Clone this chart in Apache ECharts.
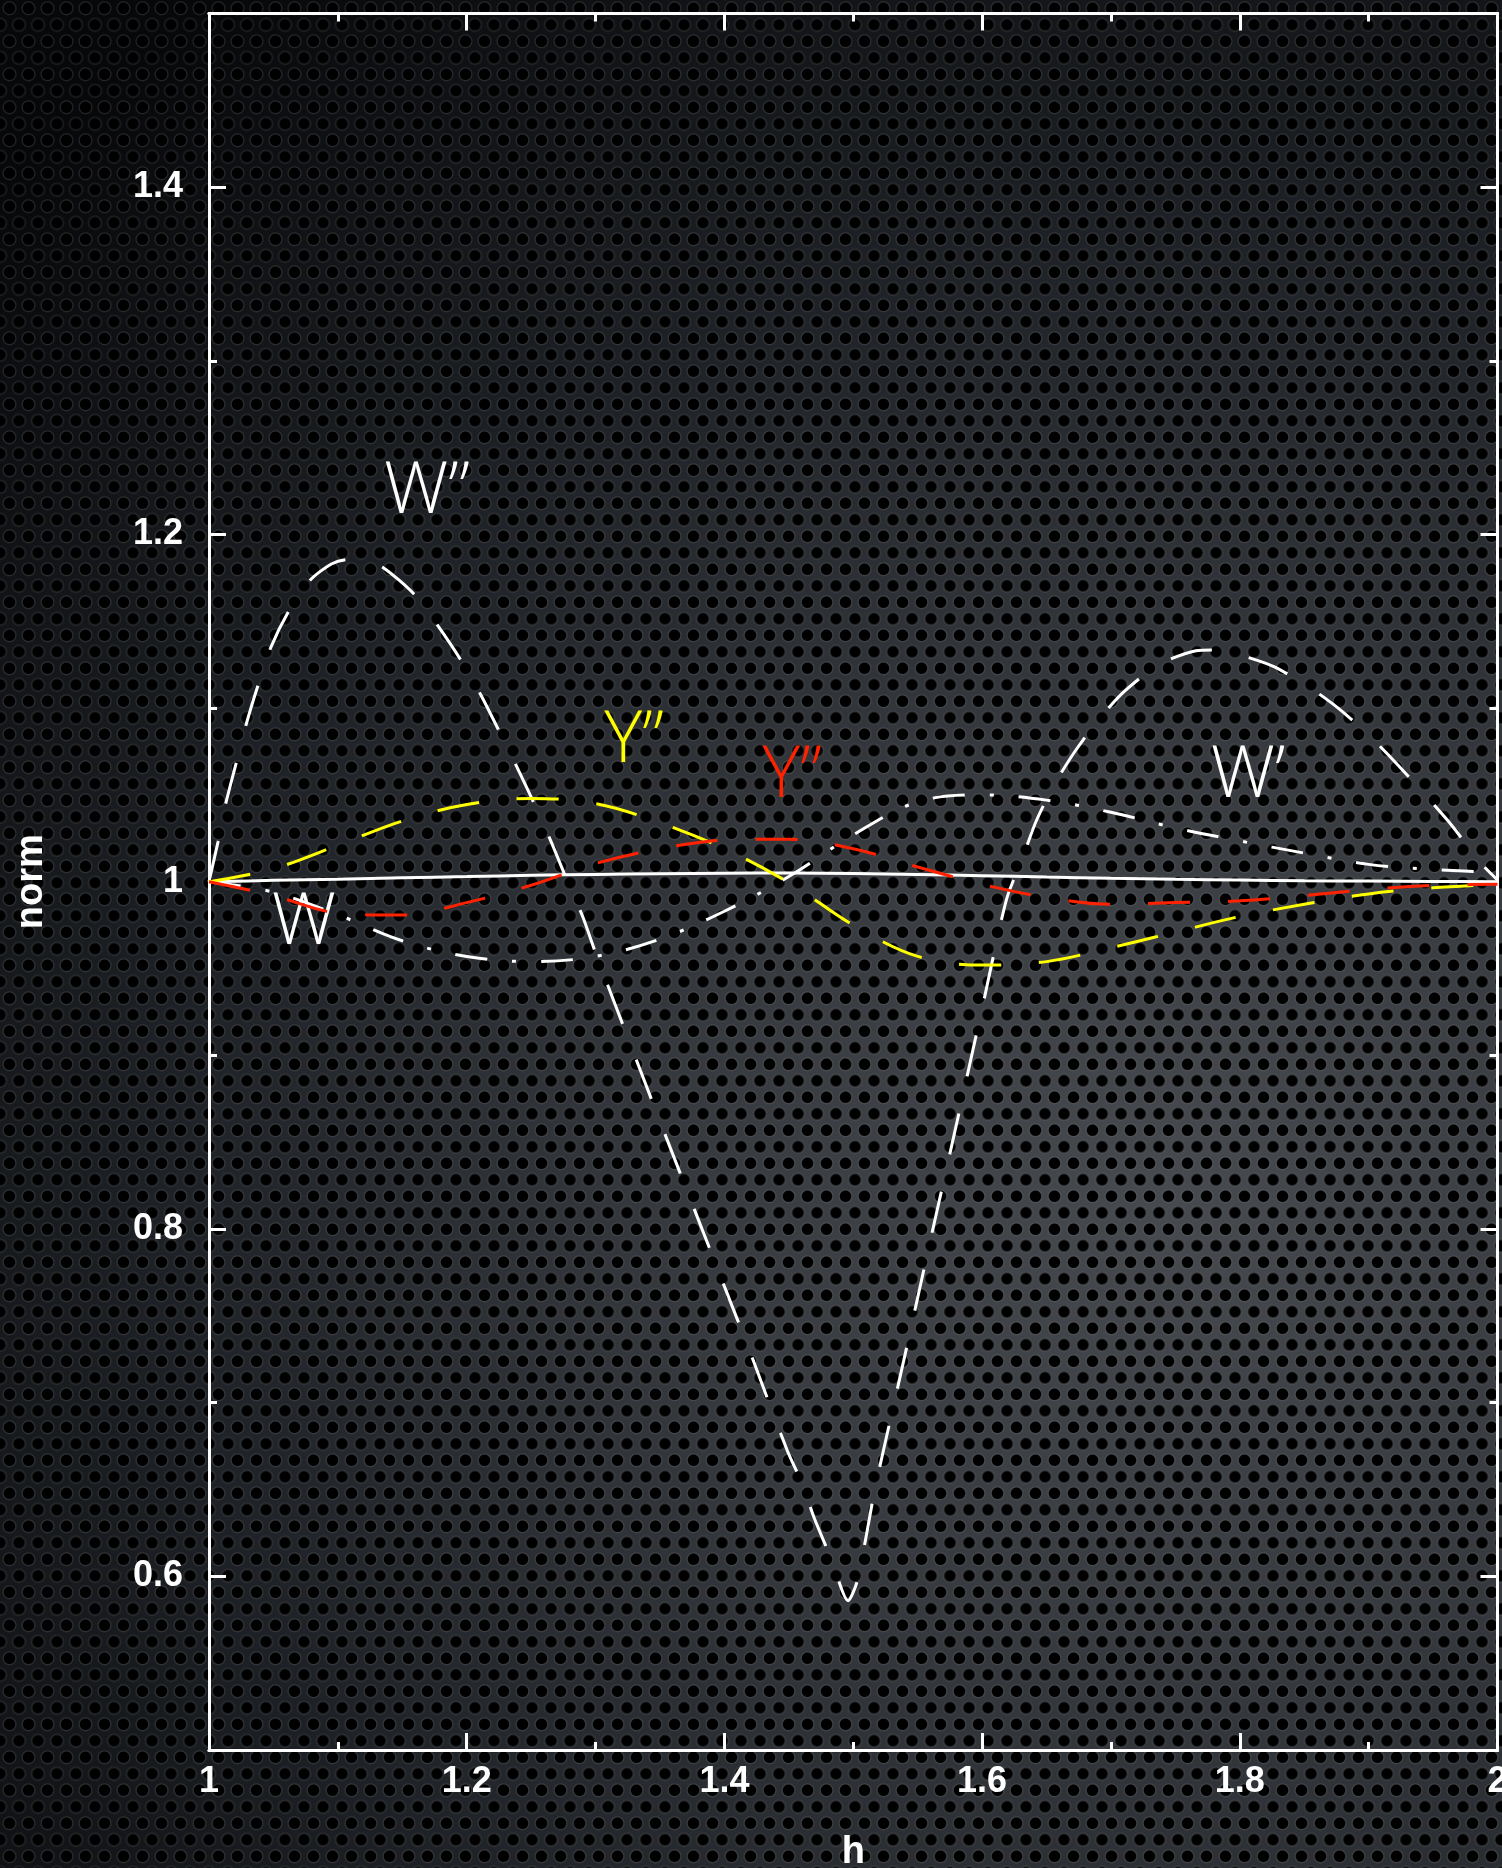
<!DOCTYPE html>
<html>
<head>
<meta charset="utf-8">
<script src="https://cdn.jsdelivr.net/npm/echarts@6/dist/echarts.min.js"></script>
<style>
  html, body { margin: 0; padding: 0; width: 1502px; height: 1868px; overflow: hidden; }
  body {
    background-color: #15181b;
    /* perforated metal: two offset rows of holes over a soft light falloff */
    background-image:
      radial-gradient(circle at 9.5px 8.25px, #000 0, #000 5.2px, rgba(120,125,130,0.25) 6.3px, rgba(0,0,0,0) 7.6px),
      radial-gradient(circle at 9.5px 8.25px, #000 0, #000 5.2px, rgba(120,125,130,0.25) 6.3px, rgba(0,0,0,0) 7.6px),
      radial-gradient(ellipse 110% 85% at 78% 64%, #474a4e 0%, #36393d 30%, #1d2024 62%, #07080a 95%);
    background-size: 19px 33px, 19px 33px, 100% 100%;
    background-position: 0 0, 9.5px 16.5px, 0 0;
  }
  #chart { width: 1502px; height: 1868px; }
</style>
</head>
<body>
<div id="chart"></div>
<script>
// ---- data -------------------------------------------------------------
const hGrid = [1.00, 1.05, 1.10, 1.15, 1.20, 1.25, 1.30, 1.35, 1.40, 1.45, 1.50,
               1.55, 1.60, 1.65, 1.70, 1.75, 1.80, 1.85, 1.90, 1.95, 2.00];

// W (solid)
const wNorm = [1.000, 1.0008, 1.0015, 1.0023, 1.0030, 1.0037, 1.0042, 1.0046, 1.0049, 1.0050, 1.0048,
               1.0042, 1.0035, 1.0027, 1.0020, 1.0014, 1.0010, 1.0006, 1.0004, 1.0002, 1.000];

// W' (dash-dot)
const wPrimeNorm = [1.000, 0.994, 0.981, 0.966, 0.957, 0.954, 0.957, 0.967, 0.983, 1.003, 1.027,
                    1.046, 1.050, 1.047, 1.040, 1.031, 1.0235, 1.0165, 1.010, 1.007, 1.0055];

// Y'' (yellow)
const yppYellow = [1.000, 1.0075, 1.021, 1.035, 1.0445, 1.048, 1.045, 1.034, 1.019, 0.9995, 0.975,
                   0.957, 0.952, 0.954, 0.962, 0.971, 0.980, 0.987, 0.993, 0.9965, 0.9985];

// Y'' (red)
const yppRed = [1.000, 0.992, 0.982, 0.9808, 0.988, 0.998, 1.0105, 1.019, 1.024, 1.0245, 1.019,
                1.0085, 0.9985, 0.991, 0.987, 0.988, 0.989, 0.992, 0.9955, 0.998, 0.9985];

// W'' (long dash), sampled more finely
const hWpp = [1.000, 1.007, 1.013, 1.021, 1.029, 1.038, 1.048, 1.062, 1.079, 1.095, 1.107, 1.120,
              1.135, 1.160, 1.178, 1.196, 1.211, 1.226, 1.239, 1.253, 1.265, 1.278, 1.290, 1.301,
              1.320, 1.350, 1.380, 1.400, 1.420, 1.449, 1.460, 1.470, 1.483, 1.496, 1.503, 1.511,
              1.517, 1.540, 1.560, 1.580, 1.600, 1.619, 1.631, 1.642, 1.656, 1.672, 1.691, 1.711,
              1.737, 1.766, 1.780, 1.798, 1.826, 1.855, 1.878, 1.902, 1.923, 1.945, 1.965, 1.986, 2.000];
const wDoublePrimeNorm = [1.000, 1.023, 1.045, 1.068, 1.091, 1.113, 1.135, 1.156, 1.174, 1.183, 1.1855, 1.185,
              1.181, 1.165, 1.147, 1.127, 1.1075, 1.0855, 1.066, 1.044, 1.024, 1.0006, 0.980, 0.957,
              0.920, 0.862, 0.805, 0.767, 0.729, 0.672, 0.654, 0.633, 0.610, 0.586, 0.597, 0.627,
              0.651, 0.727, 0.794, 0.860, 0.927, 0.990, 1.013, 1.035, 1.056, 1.075, 1.094, 1.110,
              1.125, 1.133, 1.1335, 1.131, 1.124, 1.1115, 1.099, 1.083, 1.067, 1.049, 1.032, 1.0116, 1.001];

const xMajorTicks = [1, 1.2, 1.4, 1.6, 1.8, 2];
const xMinorTicks = [1.1, 1.3, 1.5, 1.7, 1.9];
const yMajorTicks = [0.6, 0.8, 1, 1.2, 1.4];
const yMinorTicks = [0.7, 0.9, 1.1, 1.3];

const xRange = [1, 2];
const yRange = [0.5, 1.5];

// ---- chart ------------------------------------------------------------
const pairs = (xs, ys) => xs.map((x, i) => [x, ys[i]]);

const tickFont = { color: '#fff', fontSize: 36, fontFamily: 'Liberation Sans', fontWeight: 'bold' };
const curveFont = { fontSize: 72, fontFamily: 'Open Sans', fontWeight: 300 };

function frameAxis(range, position, ticks, tickLen, extra) {
  return Object.assign({
    type: 'value', min: range[0], max: range[1], position: position,
    splitLine: { show: false },
    axisLine: { show: true, onZero: false, lineStyle: { color: '#fff', width: 3 } },
    axisTick: { show: true, inside: true, length: tickLen, customValues: ticks,
                lineStyle: { color: '#fff', width: 3 } },
    axisLabel: { show: false }
  }, extra || {});
}

const fmt = v => String(+v.toFixed(2));

function curveLabel(text, coord, color) {
  return {
    symbol: 'circle', symbolSize: 0, silent: true,
    label: Object.assign({ show: true, position: 'inside', formatter: text, color: color }, curveFont),
    data: [{ coord: coord }]
  };
}

function curve(name, data, color, dash, smooth, z, mark) {
  return {
    name: name, type: 'line', data: data, showSymbol: false, symbol: 'none',
    smooth: smooth, z: z, animation: false,
    lineStyle: { color: color, width: 3, type: dash, cap: 'butt' },
    markPoint: mark
  };
}

const chart = echarts.init(document.getElementById('chart'), null, { renderer: 'canvas' });
chart.setOption({
  backgroundColor: 'transparent',
  animation: false,
  grid: { left: 209, right: 4.5, top: 13.5, bottom: 118, containLabel: false, outerBoundsMode: 'none' },
  xAxis: [
    frameAxis(xRange, 'bottom', xMajorTicks, 17, {
      axisLabel: Object.assign({ show: true, customValues: xMajorTicks, margin: 14,
                                 formatter: fmt, showMinLabel: true, showMaxLabel: true }, tickFont),
      name: 'h', nameLocation: 'middle', nameGap: 84,
      nameTextStyle: Object.assign({}, tickFont, { fontSize: 38 })
    }),
    frameAxis(xRange, 'bottom', xMinorTicks, 8),
    frameAxis(xRange, 'top', xMajorTicks, 17),
    frameAxis(xRange, 'top', xMinorTicks, 8)
  ],
  yAxis: [
    frameAxis(yRange, 'left', yMajorTicks, 17, {
      axisLabel: Object.assign({ show: true, customValues: yMajorTicks, margin: 26,
                                 formatter: fmt }, tickFont),
      name: 'norm', nameLocation: 'middle', nameGap: 158,
      nameTextStyle: Object.assign({}, tickFont, { fontSize: 38 })
    }),
    frameAxis(yRange, 'left', yMinorTicks, 8),
    frameAxis(yRange, 'right', yMajorTicks, 17),
    frameAxis(yRange, 'right', yMinorTicks, 8)
  ],
  series: [
    curve('W', pairs(hGrid, wNorm), '#ffffff', 'solid', 0.35, 2,
          curveLabel('W', [1.0737, 0.9757], '#ffffff')),
    curve("W'", pairs(hGrid, wPrimeNorm), '#ffffff', [32, 25, 4, 25], 0.35, 3,
          curveLabel('W\u2019', [1.8064, 1.0604], '#ffffff')),
    curve("W''", pairs(hWpp, wDoublePrimeNorm), '#ffffff', [42, 38], 0.25, 4,
          curveLabel('W\u201D', [1.1692, 1.2239], '#ffffff')),
    curve("Y'' a", pairs(hGrid, yppYellow), '#ffff00', [42, 38], 0.35, 5,
          curveLabel('Y\u201D', [1.3298, 1.0806], '#ffff00')),
    curve("Y'' b", pairs(hGrid, yppRed), '#ff2200', [42, 38], 0.35, 6,
          curveLabel('Y\u201D', [1.4525, 1.0604], '#ff2200'))
  ]
});
</script>
</body>
</html>
